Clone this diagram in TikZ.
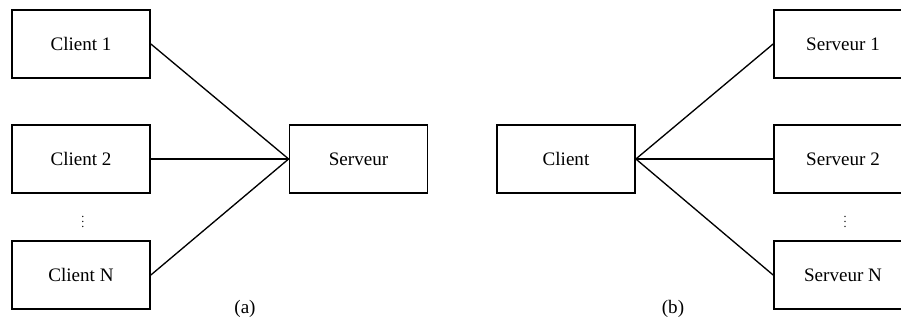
\documentclass[tikz,border=0pt]{standalone}
\usepackage{fontspec}
\setmainfont{Liberation Serif}
\begin{document}
\begin{tikzpicture}[x=0.75pt,y=-0.75pt,
  box/.style={draw,line width=1.3pt,minimum width=103.5pt,minimum height=51pt,inner sep=0pt,
    font=\fontsize{14.3}{17}\selectfont},
  link/.style={line width=1pt},
  sublabel/.style={font=\fontsize{14.3}{17}\selectfont,inner sep=0pt},
  dotsnode/.style={font=\fontsize{9}{9}\selectfont,inner sep=0pt}]
\useasboundingbox (0,0) rectangle (901,320);
\clip (0,0) rectangle (901,320);
% (a) several clients, one server
\node[box] (c1) at (81,44) {Client 1};
\node[box] (c2) at (81,159) {Client 2};
\node[box] (cn) at (81,275) {Client N};
\node[dotsnode] (cdots) at (83,218) {$\vdots$};
\node[box] (srv) at (358.5,159) {Serveur};
\draw[link] (c1.east) -- (srv.west);
\draw[link] (c2.east) -- (srv.west);
\draw[link] (cn.east) -- (srv.west);
\node[sublabel] (capa) at (245,309) {(a)};
% (b) one client, several servers
\node[box] (cl) at (566,159) {Client};
\node[box] (s1) at (843,44) {Serveur 1};
\node[box] (s2) at (843,159) {Serveur 2};
\node[box] (sn) at (843,275) {Serveur N};
\node[dotsnode] (sdots) at (845,218) {$\vdots$};
\draw[link] (cl.east) -- (s1.west);
\draw[link] (cl.east) -- (s2.west);
\draw[link] (cl.east) -- (sn.west);
\node[sublabel] (capb) at (673,309) {(b)};
\end{tikzpicture}
\end{document}
